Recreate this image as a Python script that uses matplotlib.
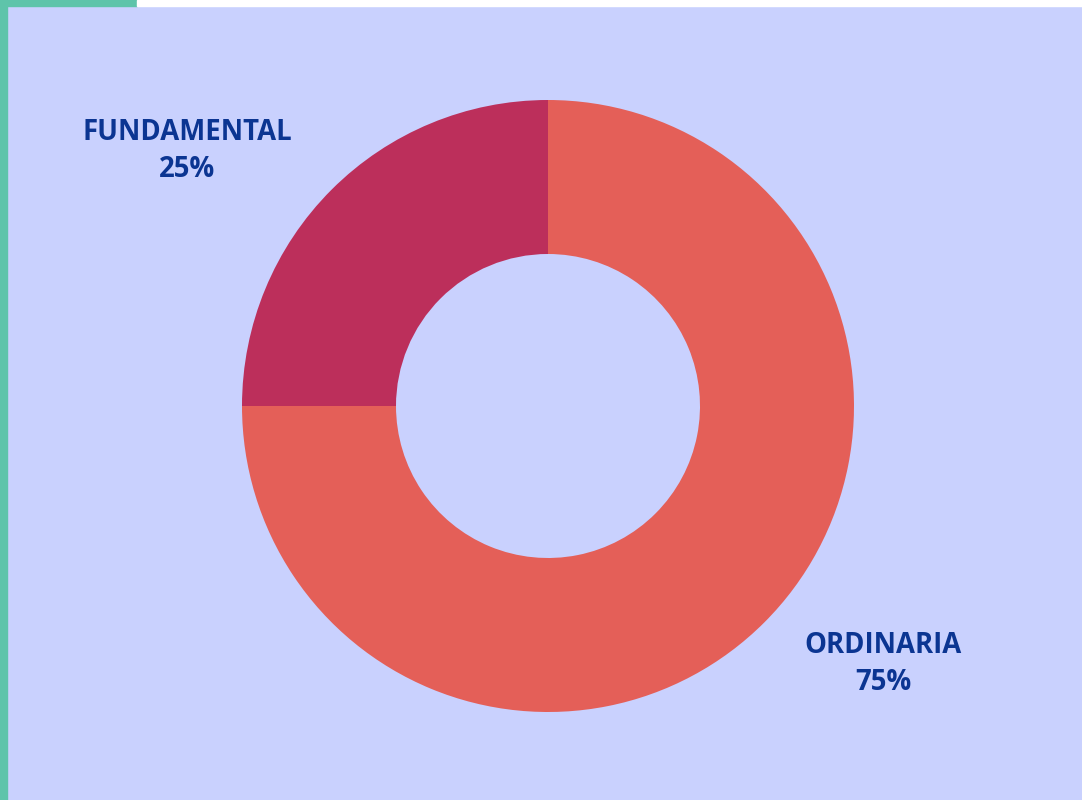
import matplotlib
matplotlib.use("Agg")
import matplotlib.pyplot as plt
from matplotlib.patches import Rectangle

categories = ["ORDINARIA", "FUNDAMENTAL"]
values = [75, 25]
colors = ["#E45F58", "#BC2F5B"]

W, H = 1082, 800
fig = plt.figure(figsize=(W/100, H/100), dpi=100)
fig.patch.set_facecolor("#C9D1FE")
# borders
fig.patches.append(Rectangle((0, 0), 7/W, 1, transform=fig.transFigure, color="#5EC4AA", zorder=0))
fig.patches.append(Rectangle((0, 1-6/H), 137/W, 6/H, transform=fig.transFigure, color="#5EC4AA", zorder=0))
fig.patches.append(Rectangle((137/W, 1-6/H), 1-137/W, 6/H, transform=fig.transFigure, color="white", zorder=0))

cx, cy, R = 548, 406, 306
ax = fig.add_axes([(cx-R)/W, 1-(cy+R)/H, 2*R/W, 2*R/H])
ax.set_facecolor("none")
wedges, _ = ax.pie(values, colors=colors, startangle=90, counterclock=False,
                   wedgeprops=dict(width=154/306, linewidth=0))
ax.set_xlim(-1, 1); ax.set_ylim(-1, 1)
ax.set_aspect("equal")
ax.axis("off")

label_pos = {"ORDINARIA": (883, 664), "FUNDAMENTAL": (187, 151)}
for cat, v in zip(categories, values):
    x, y = label_pos[cat]
    fig.text(x/W, 1-y/H, f"{cat}\n{v}%", ha="center", va="center",
             fontsize=19.8, fontweight="bold", family="Open Sans",
             color="#0B3592", linespacing=1.4)

fig.savefig("out.png", dpi=100, facecolor=fig.get_facecolor())
